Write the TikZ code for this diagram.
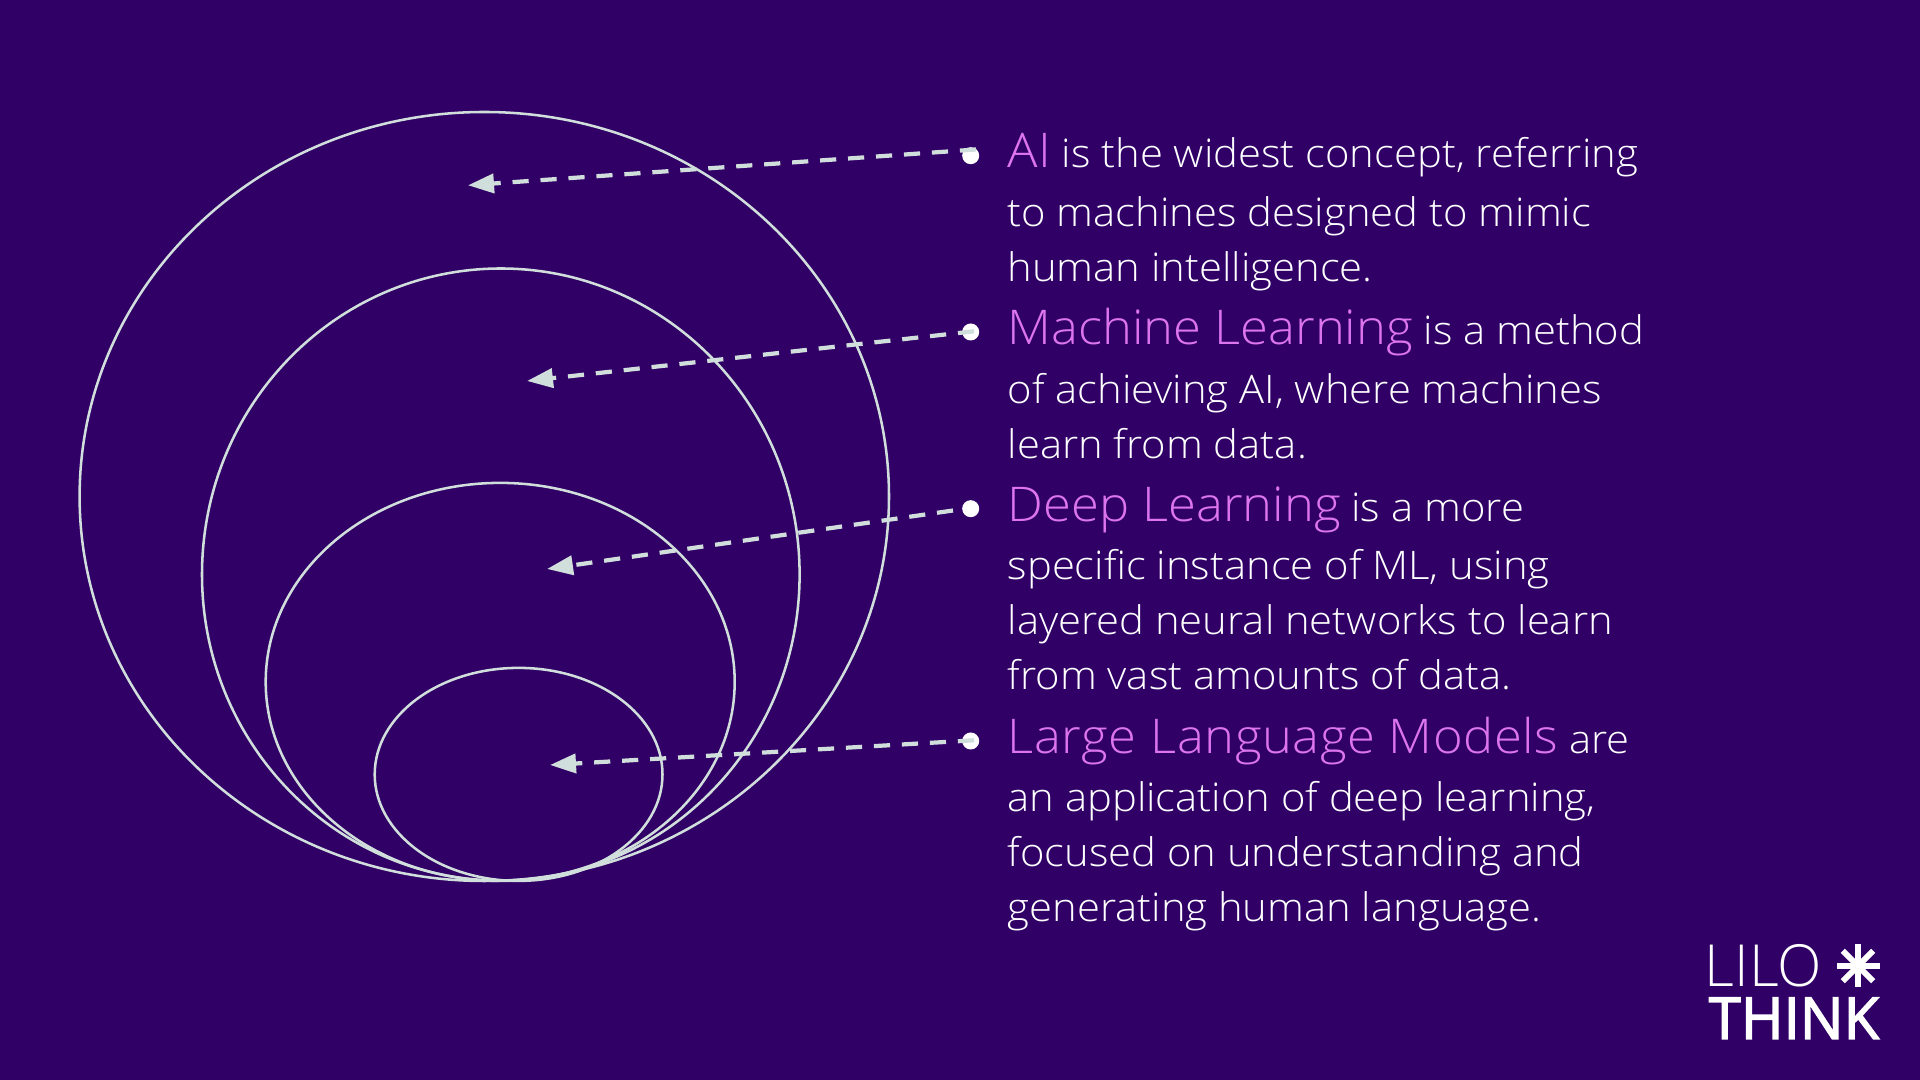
\documentclass[tikz,border=0pt]{standalone}
\usepackage{fontspec}
\setmainfont{Open Sans Light}[FakeStretch=1.06]
\newfontfamily\logolight{Open Sans Light}
\newfontfamily\logobold{Open Sans}[FakeBold=2.4]
\usetikzlibrary{arrows.meta}
\definecolor{bgpurple}{HTML}{300066}
\definecolor{ringgray}{HTML}{D0DEDC}
\definecolor{hilite}{HTML}{DD75EF}
\newcommand{\hl}[1]{{\color{hilite}\fontsize{13.6}{15}\selectfont #1}}
\begin{document}
\begin{tikzpicture}[x=0.01cm, y=-0.01cm,
  ring/.style={draw=ringgray, line width=0.72pt},
  pointer/.style={draw=ringgray, line width=1.2pt, dash pattern=on 4.6pt off 3.37pt, -{Triangle[length=7.4pt,width=5.4pt]}},
  dotmark/.style={circle, fill=white, inner sep=0pt, minimum size=0.17cm},
  para/.style={anchor=north west, align=left, inner sep=0pt, text=white, font=\fontsize{11.2}{15.65}\selectfont}]
  \fill[bgpurple] (0,0) rectangle (1920,1080);
  \useasboundingbox (0,0) rectangle (1920,1080);
  % rings
  \draw[ring] (484.3,496.5) ellipse [x radius=404.7, y radius=384.5];
  \draw[ring] (500.8,574.5) ellipse [x radius=298.8, y radius=306];
  \draw[ring] (500.2,681.9) ellipse [x radius=234.5, y radius=199];
  \draw[ring] (518.6,774.4) ellipse [x radius=143.9, y radius=106.5];
  % pointers
  \node[dotmark] (dotA) at (970.7,155.7) {};
  \node[dotmark] (dotB) at (970.7,332) {};
  \node[dotmark] (dotC) at (970.7,508.7) {};
  \node[dotmark] (dotD) at (970.7,741) {};
  \coordinate (tailA) at (976,149.5);
  \coordinate (tailB) at (974,331.3);
  \coordinate (tailC) at (953,510.5);
  \coordinate (tailD) at (974,740.3);
  \coordinate (tipA) at (468,185.3);
  \coordinate (tipB) at (527,381);
  \coordinate (tipC) at (547,569);
  \coordinate (tipD) at (550,765);
  \draw[pointer] (tailA) -- (tipA);
  \draw[pointer] (tailB) -- (tipB);
  \draw[pointer] (tailC) -- (tipC);
  \draw[pointer] (tailD) -- (tipD);
  % text
  \node[para] (txtA) at (1007,133) {\hl{AI} is the widest concept, referring\\[1pt]to machines designed to mimic\\human intelligence.};
  \node[para] (txtB) at (1007,307.6) {\hl{Machine Learning} is a method\\[1pt]of achieving AI, where machines\\learn from data.};
  \node[para] (txtC) at (1007,485.8) {\hl{Deep Learning} is a more\\[1pt]specific instance of ML, using\\layered neural networks to learn\\from vast amounts of data.};
  \node[para] (txtD) at (1007,716.2) {\hl{\addfontfeature{LetterSpace=1.3}Large Language Models} are\\[1pt]an application of deep learning,\\focused on understanding and\\generating human language.};
  % logo
  \node[anchor=base west, inner sep=0pt, text=white, font=\logolight\fontsize{16.5}{18}\selectfont] (lilo) at (1704,987) {LILO};
  \node[anchor=base west, inner sep=0pt, text=white, font=\logobold\fontsize{16.5}{18}\selectfont] (think) at (1708,1039) {THINK};
  \coordinate (star) at (1858,966);
  \foreach \ang in {0,45,...,315}
    \draw[white, line width=1.7pt] (star) -- ++(\ang:21.5);
\end{tikzpicture}
\end{document}
